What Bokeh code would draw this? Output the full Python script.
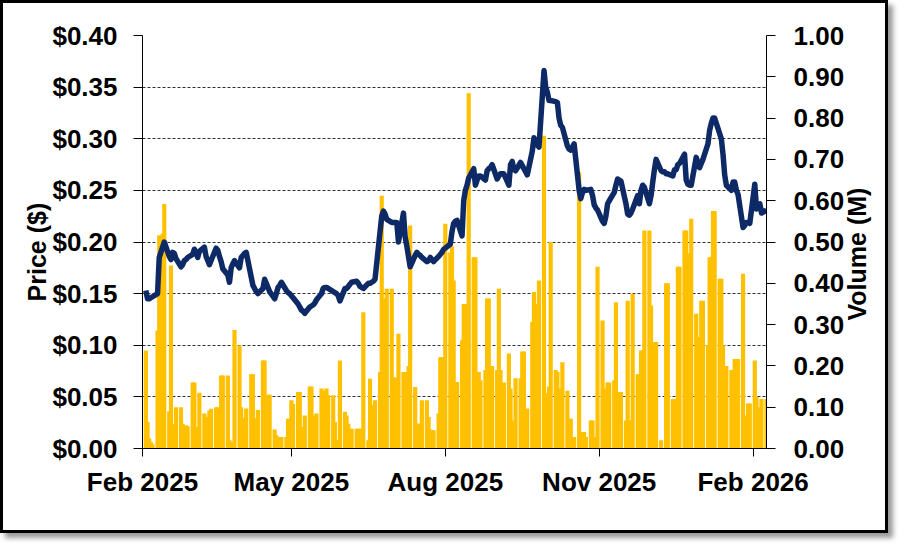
import math
import pandas as pd
from bokeh.plotting import figure
from bokeh.models import (ColumnDataSource, Range1d, LinearAxis, FixedTicker,
                          NumeralTickFormatter, DatetimeTickFormatter)
from bokeh.embed import file_html
from bokeh.resources import INLINE

# trading days shown on the chart
dates = pd.bdate_range("2025-02-03", "2026-02-09")

# closing price ($), one row per week
price = [
    .153, .145, .145, .146, .147,
    .150, .185, .190, .195, .200,
    .186, .183, .190, .189, .184,
    .176, .178, .182, .183, .185,
    .188, .193, .190, .185, .191,
    .195, .186, .182, .178, .182,
    .194, .192, .186, .181, .174,
    .168, .161, .175, .179, .182,
    .175, .185, .187, .189, .190,
    .166, .158, .155, .152, .150,
    .155, .164, .160, .156, .152,
    .145, .150, .156, .158, .161,
    .153, .151, .150, .148, .146,
    .140, .137, .134, .133, .131,
    .137, .138, .139, .141, .144,
    .150, .155, .156, .156, .155,
    .152, .151, .150, .148, .143,
    .155, .155, .157, .159, .161,
    .162, .160, .157, .156, .155,
    .160, .160, .161, .162, .164,
    .210, .225, .230, .227, .222,
    .219, .219, .219, .219, .200,
    .228, .205, .196, .186, .176,
    .187, .190, .188, .187, .185,
    .181, .182, .185, .183, .181,
    .186, .188, .190, .193, .194,
    .198, .210, .218, .220, .221,
    .206, .240, .250, .255, .262,
    .271, .255, .260, .264, .264,
    .260, .269, .271, .272, .275,
    .261, .264, .266, .266, .266,
    .255, .275, .278, .270, .269,
    .277, .274, .271, .268, .265,
    .288, .301, .298, .294, .292,
    .366, .350, .345, .337, .337,
    .336, .335, .320, .313, .311,
    .293, .290, .289, .292, .295,
    .250, .242, .248, .251, .250,
    .251, .245, .236, .233, .231,
    .220, .218, .225, .237, .240,
    .248, .255, .261, .260, .259,
    .237, .227, .226, .228, .232,
    .245, .237, .250, .255, .253,
    .237, .245, .258, .270, .280,
    .269, .268, .268, .266, .266,
    .264, .270, .270, .275, .276,
    .285, .260, .256, .255, .255,
    .282, .276, .272, .276, .280,
    .295, .308, .315, .320, .320,
    .305, .300, .285, .265, .255,
    .250, .258, .258, .250, .246,
    .214, .216, .219, .219, .218,
    .256, .232, .236, .237, .228,
    .231,
]

# volume (millions of shares)
volume = [
    .237, .064, .024, .015, .010,
    .286, .516, .516, .520, .592,
    .090, .443, .060, .020, .100,
    .100, .060, .030, .056, .054,
    .160, .160, .040, .052, .135,
    .085, .076, .072, .092, .096,
    .100, .100, .020, .177, .177,
    .177, .020, .016, .016, .287,
    .250, .100, .016, .073, .097,
    .180, .180, .073, .073, .093,
    .213, .213, .110, .130, .130,
    .046, .032, .028, .028, .028,
    .028, .072, .072, .117, .108,
    .137, .137, .052, .020, .080,
    .150, .150, .028, .080, .085,
    .145, .140, .016, .145, .129,
    .129, .064, .020, .020, .213,
    .089, .080, .060, .048, .048,
    .048, .048, .048, .048, .330,
    .020, .169, .105, .105, .117,
    .185, .612, .363, .363, .387,
    .387, .173, .170, .170, .278,
    .185, .185, .185, .200, .540,
    .149, .060, .060, .060, .117,
    .117, .076, .046, .044, .044,
    .085, .221, .221, .221, .544,
    .475, .490, .407, .161, .161,
    .262, .350, .350, .092, .860,
    .463, .463, .185, .185, .165,
    .190, .363, .363, .197, .200,
    .190, .387, .190, .120, .160,
    .230, .145, .068, .028, .170,
    .170, .235, .235, .064, .097,
    .306, .379, .350, .245, .407,
    .757, .133, .133, .150, .500,
    .190, .185, .145, .068, .209,
    .140, .072, .072, .028, .028,
    .669, .040, .040, .040, .028,
    .068, .068, .028, .028, .440,
    .310, .145, .125, .160, .160,
    .165, .354, .137, .137, .137,
    .068, .358, .068, .068, .375,
    .180, .180, .237, .237, .528,
    .528, .346, .048, .258, .258,
    .020, .000, .000, .400, .400,
    .120, .120, .120, .440, .440,
    .528, .528, .473, .322, .556,
    .326, .270, .270, .358, .358,
    .250, .463, .463, .575, .575,
    .411, .411, .250, .200, .200,
    .190, .190, .217, .217, .217,
    .423, .080, .000, .109, .109,
    .213, .125, .100, .068, .120,
    .120,
]

month_ticks = ["2025-02-01", "2025-05-01", "2025-08-01", "2025-11-01", "2026-02-01"]
price_ticks = [0.0, 0.05, 0.10, 0.15, 0.20, 0.25, 0.30, 0.35, 0.40]
volume_ticks = [0.0, 0.1, 0.2, 0.3, 0.4, 0.5, 0.6, 0.7, 0.8, 0.9, 1.0]


def ms(d):
    return pd.Timestamp(d).value / 1e6


DAY = 86400000
FONT = "Liberation Sans"

source = ColumnDataSource(data=dict(date=dates, price=price, volume=volume))

p = figure(width=888, height=533, x_axis_type="datetime",
           x_range=Range1d(ms("2025-02-01"), ms("2026-02-09")),
           y_range=Range1d(0, 0.40),
           toolbar_location=None, output_backend="svg",
           min_border_left=139, min_border_right=125,
           min_border_top=32, min_border_bottom=88,
           styles={"border": "3px solid black",
                   "box-shadow": "5px 5px 5px #9a9a9a"})
p.outline_line_color = None
p.extra_y_ranges = {"vol": Range1d(0, 1.0)}

p.vbar(x="date", top="volume", width=2.5 * DAY, source=source,
       y_range_name="vol", fill_color="#FFC000", line_color=None)
p.line(x="date", y="price", source=source, color="#0E2A66",
       line_width=5.5, line_join="round")

right = LinearAxis(y_range_name="vol")
p.add_layout(right, "right")

p.xaxis.ticker = FixedTicker(ticks=[ms(d) for d in month_ticks])
p.xaxis.formatter = DatetimeTickFormatter(days="%b %Y", months="%b %Y", years="%b %Y")
p.yaxis[0].ticker = FixedTicker(ticks=price_ticks)
p.yaxis[0].formatter = NumeralTickFormatter(format="$0.00")
right.ticker = FixedTicker(ticks=volume_ticks)
right.formatter = NumeralTickFormatter(format="0.00")

for ax in [p.xaxis[0], p.yaxis[0], right]:
    ax.axis_line_color = "black"
    ax.axis_line_width = 1
    ax.major_tick_line_color = "black"
    ax.major_tick_in = 0
    ax.major_tick_out = 9
    ax.minor_tick_line_color = None
    ax.major_label_text_font = FONT
    ax.major_label_text_font_style = "bold"
    ax.major_label_text_font_size = "26px"
    ax.major_label_text_color = "black"

p.xaxis.major_tick_out = 8
p.xaxis.major_label_standoff = 10
p.yaxis[0].major_label_standoff = 16
right.major_label_standoff = 18

# axis titles: an outer bare axis each, so the text reads bottom to top
# and sits a little below the middle as in the original
title_left = LinearAxis(ticker=FixedTicker(ticks=[0.238]),
                        major_label_overrides={0.238: "Price ($)"})
title_right = LinearAxis(y_range_name="vol", ticker=FixedTicker(ticks=[0.31]),
                         major_label_overrides={0.31: "Volume (M)"})
p.add_layout(title_left, "left")
p.add_layout(title_right, "right")
for ax in [title_left, title_right]:
    ax.axis_line_color = None
    ax.major_tick_line_color = None
    ax.minor_tick_line_color = None
    ax.major_tick_in = 0
    ax.major_tick_out = 0
    ax.major_label_orientation = math.pi / 2
    ax.major_label_text_font = FONT
    ax.major_label_text_font_style = "bold"
    ax.major_label_text_font_size = "25px"
    ax.major_label_text_color = "black"
title_left.major_label_standoff = 12
title_right.major_label_standoff = 10

p.xgrid.visible = False
p.ygrid.ticker = FixedTicker(ticks=price_ticks)
p.ygrid.grid_line_color = "#303030"
p.ygrid.grid_line_dash = "3 2"
p.ygrid.grid_line_width = 1

open("out.html", "w").write(file_html(p, INLINE))
